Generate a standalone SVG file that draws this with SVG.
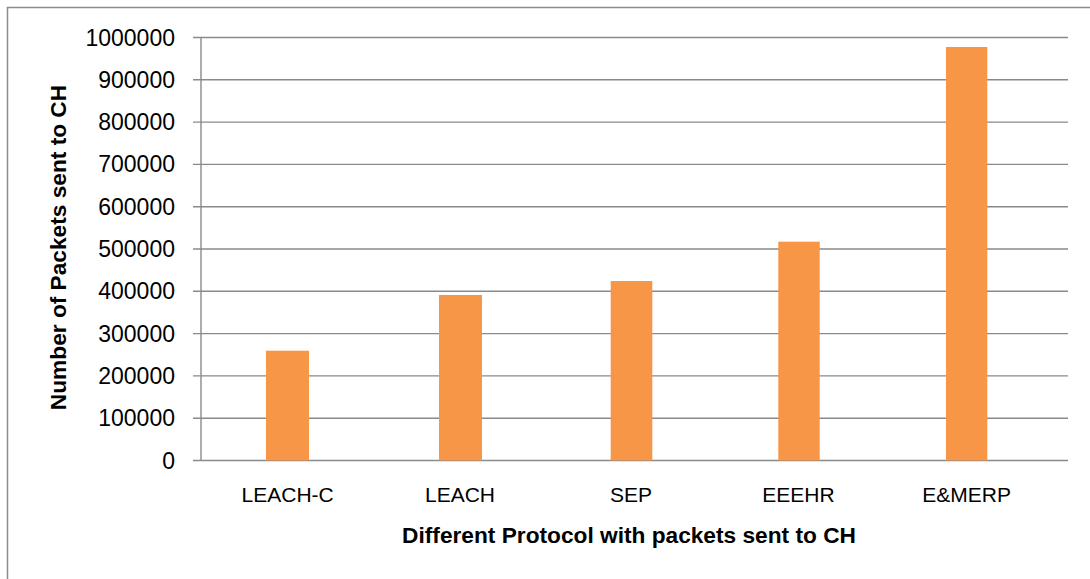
<svg xmlns="http://www.w3.org/2000/svg" width="1090" height="579" viewBox="0 0 1090 579">
  <style>
    .frame { fill: none; stroke: #8c8c8c; stroke-width: 1.5; }
    .grid { stroke: #8a8a8a; stroke-width: 1.4; }
    .bar { fill: #f79646; }
    .tick { font-family: "Liberation Sans", Arial, sans-serif; font-size: 23px; fill: #000; text-anchor: end; }
    .cat { font-family: "Liberation Sans", Arial, sans-serif; font-size: 21px; fill: #000; text-anchor: middle; }
    .title { font-family: "Liberation Sans", Arial, sans-serif; font-size: 22.7px; font-weight: bold; fill: #000; text-anchor: middle; }
  </style>
  <rect x="0" y="0" width="1090" height="579" fill="#ffffff"/>
  <!-- chart frame: top and left edges -->
  <path class="frame" d="M7.5 579 V7.5 H1090"/>

  <!-- gridlines, axes and tick marks -->
  <g id="axes">
    <g class="grid">
      <line x1="193" y1="460.5" x2="1068" y2="460.5"/>
      <line x1="193" y1="418.2" x2="1068" y2="418.2"/>
      <line x1="193" y1="375.9" x2="1068" y2="375.9"/>
      <line x1="193" y1="333.6" x2="1068" y2="333.6"/>
      <line x1="193" y1="291.3" x2="1068" y2="291.3"/>
      <line x1="193" y1="249.0" x2="1068" y2="249.0"/>
      <line x1="193" y1="206.7" x2="1068" y2="206.7"/>
      <line x1="193" y1="164.4" x2="1068" y2="164.4"/>
      <line x1="193" y1="122.1" x2="1068" y2="122.1"/>
      <line x1="193" y1="79.8" x2="1068" y2="79.8"/>
      <line x1="193" y1="37.5" x2="1068" y2="37.5"/>
      <line x1="201" y1="37.5" x2="201" y2="460.5"/>
    </g>
    <g class="tick">
      <text x="175" y="468.5">0</text>
      <text x="175" y="426.2">100000</text>
      <text x="175" y="383.9">200000</text>
      <text x="175" y="341.6">300000</text>
      <text x="175" y="299.3">400000</text>
      <text x="175" y="257.0">500000</text>
      <text x="175" y="214.7">600000</text>
      <text x="175" y="172.4">700000</text>
      <text x="175" y="130.1">800000</text>
      <text x="175" y="87.8">900000</text>
      <text x="175" y="45.5">1000000</text>
    </g>
  </g>

  <!-- bars -->
  <g id="bar-leach-c">
    <rect class="bar" x="266" y="350.7" width="43" height="109.8"/>
    <text class="cat" x="287.7" y="501.7">LEACH-C</text>
  </g>
  <g id="bar-leach">
    <rect class="bar" x="439" y="295" width="43" height="165.5"/>
    <text class="cat" x="460" y="501.7">LEACH</text>
  </g>
  <g id="bar-sep">
    <rect class="bar" x="610.7" y="281" width="41.6" height="179.5"/>
    <text class="cat" x="631" y="501.7">SEP</text>
  </g>
  <g id="bar-eeehr">
    <rect class="bar" x="778.3" y="241.7" width="41.4" height="218.8"/>
    <text class="cat" x="798.5" y="501.7">EEEHR</text>
  </g>
  <g id="bar-emerp">
    <rect class="bar" x="946" y="47" width="41.3" height="413.5"/>
    <text class="cat" x="966.7" y="501.7">E&amp;MERP</text>
  </g>

  <!-- axis titles -->
  <text class="title" x="629" y="543.3">Different Protocol with packets sent to CH</text>
  <text class="title" transform="translate(66 247.5) rotate(-90)" x="0" y="0">Number of Packets sent to CH</text>
</svg>
